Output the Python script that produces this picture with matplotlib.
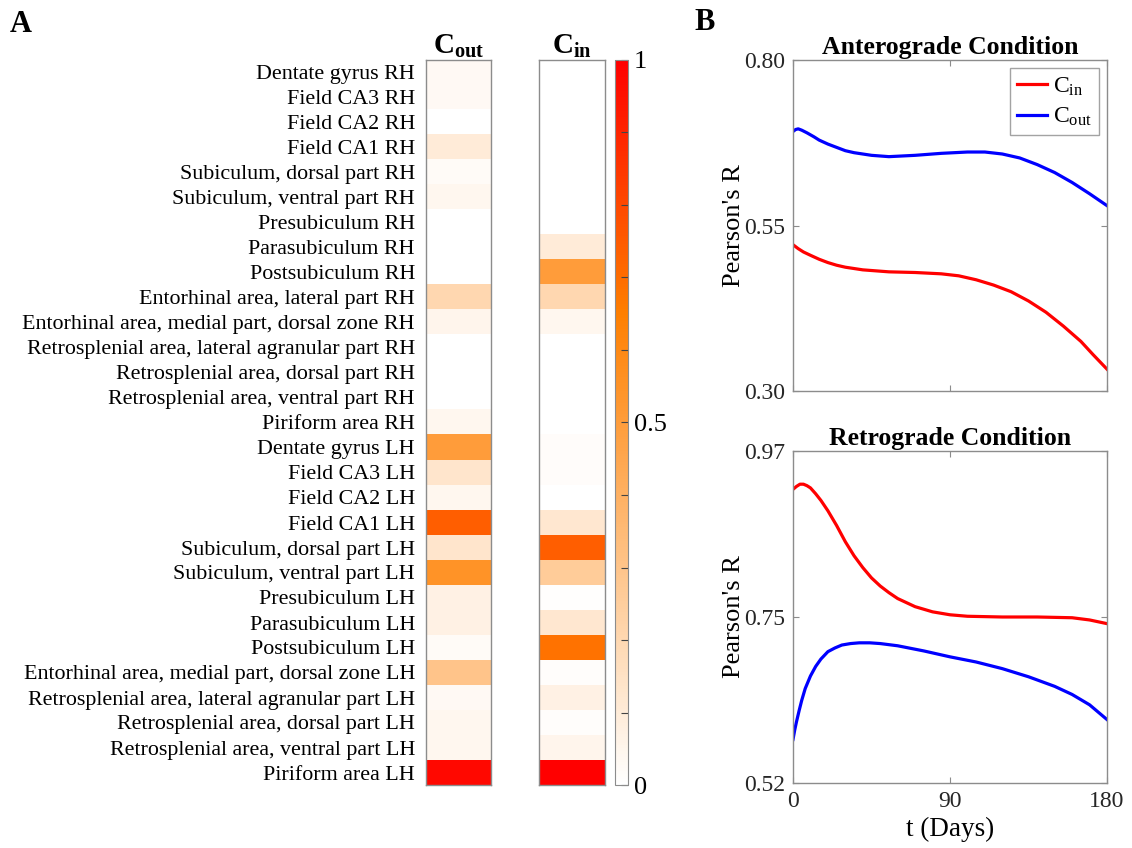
import numpy as np
import matplotlib
matplotlib.use("Agg")
import matplotlib.pyplot as plt
from matplotlib.colors import LinearSegmentedColormap

plt.rcParams['font.family'] = ['Liberation Serif', 'DejaVu Serif']
plt.rcParams['mathtext.fontset'] = 'custom'
plt.rcParams['mathtext.rm'] = 'Liberation Serif'
plt.rcParams['mathtext.it'] = 'Liberation Serif:italic'
plt.rcParams['mathtext.bf'] = 'Liberation Serif:bold'

# ---------------- data ----------------
regions = [
    "Dentate gyrus RH", "Field CA3 RH", "Field CA2 RH", "Field CA1 RH",
    "Subiculum, dorsal part RH", "Subiculum, ventral part RH", "Presubiculum RH",
    "Parasubiculum RH", "Postsubiculum RH", "Entorhinal area, lateral part RH",
    "Entorhinal area, medial part, dorsal zone RH",
    "Retrosplenial area, lateral agranular part RH",
    "Retrosplenial area, dorsal part RH", "Retrosplenial area, ventral part RH",
    "Piriform area RH", "Dentate gyrus LH", "Field CA3 LH", "Field CA2 LH",
    "Field CA1 LH", "Subiculum, dorsal part LH", "Subiculum, ventral part LH",
    "Presubiculum LH", "Parasubiculum LH", "Postsubiculum LH",
    "Entorhinal area, medial part, dorsal zone LH",
    "Retrosplenial area, lateral agranular part LH",
    "Retrosplenial area, dorsal part LH", "Retrosplenial area, ventral part LH",
    "Piriform area LH",
]
c_out = [0.03, 0.03, 0.0, 0.10, 0.02, 0.04, 0.0, 0.0, 0.0, 0.20, 0.05, 0.0, 0.0, 0.0,
         0.04, 0.50, 0.13, 0.04, 0.74, 0.13, 0.55, 0.07, 0.07, 0.02, 0.30, 0.03,
         0.04, 0.04, 0.975]
c_in = [0.0, 0.0, 0.0, 0.0, 0.0, 0.0, 0.0, 0.10, 0.50, 0.20, 0.04, 0.0, 0.0, 0.0,
        0.0, 0.015, 0.015, 0.0, 0.12, 0.74, 0.26, 0.005, 0.12, 0.685, 0.01, 0.07,
        0.01, 0.05, 1.0]

ant_out_t = [0, 1.5, 3, 5, 8, 12, 15, 20, 25, 30, 35, 40, 45, 55, 70, 85, 100, 110, 120,
             130, 140, 150, 160, 170, 180]
ant_out_r = [0.692, 0.695, 0.696, 0.694, 0.690, 0.684, 0.679, 0.673, 0.668, 0.663, 0.660,
             0.658, 0.656, 0.654, 0.656, 0.659, 0.661, 0.661, 0.658, 0.652, 0.642, 0.630,
             0.615, 0.598, 0.580]
ant_in_t = [0, 3, 6, 10, 15, 20, 25, 30, 40, 55, 70, 85, 95, 105, 115, 125, 135, 145, 155,
            165, 172, 180]
ant_in_r = [0.521, 0.515, 0.510, 0.505, 0.499, 0.494, 0.490, 0.487, 0.483, 0.480, 0.479,
            0.477, 0.474, 0.468, 0.460, 0.450, 0.436, 0.419, 0.398, 0.375, 0.355, 0.333]

ret_in_t = [0, 2, 4, 6, 8, 10, 13, 16, 20, 25, 30, 35, 40, 45, 50, 55, 60, 70, 80, 90, 100,
            120, 140, 160, 170, 180]
ret_in_r = [0.918, 0.922, 0.925, 0.925, 0.923, 0.920, 0.912, 0.903, 0.889, 0.869, 0.847,
            0.828, 0.812, 0.798, 0.787, 0.778, 0.770, 0.759, 0.752, 0.748, 0.746, 0.745,
            0.745, 0.744, 0.741, 0.736]
ret_out_t = [0, 1, 2, 3.5, 5, 7, 10, 13, 16, 20, 24, 28, 33, 38, 44, 50, 60, 75, 90, 105,
             120, 135, 150, 160, 170, 180]
ret_out_r = [0.579, 0.592, 0.603, 0.618, 0.632, 0.648, 0.665, 0.678, 0.688, 0.698, 0.703,
             0.707, 0.709, 0.710, 0.710, 0.709, 0.706, 0.699, 0.691, 0.684, 0.675, 0.664,
             0.651, 0.640, 0.626, 0.606]

# ---------------- figure ----------------
W, H = 1132, 848
fig = plt.figure(figsize=(W / 100, H / 100), dpi=100)

def ax_px(x0, y0, x1, y1):
    return fig.add_axes([x0 / W, 1 - y1 / H, (x1 - x0) / W, (y1 - y0) / H])

cmap = LinearSegmentedColormap.from_list(
    "wor", [(0.0, (1, 1, 1)), (0.65, (1.0, 0.5, 0.0)), (1.0, (1.0, 0.0, 0.0))])

edge = "#8c8c8c"
n = len(regions)
ax_out = ax_px(426, 60, 491, 785)
ax_in = ax_px(539, 60, 605, 785)
im = None
for ax, vals, title in [(ax_out, c_out, r"$\mathbf{C_{out}}$"), (ax_in, c_in, r"$\mathbf{C_{in}}$")]:
    im = ax.imshow(np.array(vals).reshape(-1, 1), cmap=cmap, vmin=0, vmax=1,
                   aspect='auto', interpolation='nearest')
    ax.set_xticks([])
    ax.set_yticks([])
    for s in ax.spines.values():
        s.set_color(edge)
        s.set_linewidth(1.0)
    ax.set_title(title, fontsize=21, pad=3)

ax_out.set_yticks(range(n))
ax_out.set_yticklabels(regions, fontsize=15.8)
ax_out.tick_params(axis='y', length=0, pad=8)

cax = ax_px(615, 60, 628, 785)
cb = fig.colorbar(im, cax=cax)
cb.set_ticks(np.round(np.arange(0, 1.01, 0.1), 1))
cb.set_ticklabels(["0", "", "", "", "", "0.5", "", "", "", "", "1"])
cb.ax.tick_params(direction='in', length=5, width=0.8, color='#444444', labelsize=19, pad=4)
cb.outline.set_edgecolor(edge)

def style_line_ax(ax):
    for s in ax.spines.values():
        s.set_color(edge)
        s.set_linewidth(1.0)
    ax.tick_params(direction='in', top=True, right=True, color=edge, length=4,
                   labelsize=17, labelcolor='#262626', pad=6)
    ax.set_xlim(0, 180)
    ax.set_xticks([0, 90, 180])

ax1 = ax_px(793, 60, 1107, 391)
ax1.plot(ant_in_t, ant_in_r, color='#ff0000', lw=2.3, label=r"C$_{\mathrm{in}}$")
ax1.plot(ant_out_t, ant_out_r, color='#0000ff', lw=2.3, label=r"C$_{\mathrm{out}}$")
style_line_ax(ax1)
ax1.set_ylim(0.30, 0.80)
ax1.set_yticks([0.30, 0.55, 0.80])
ax1.set_yticklabels(["0.30", "0.55", "0.80"])
ax1.set_xticklabels([])
ax1.set_ylabel("Pearson's R", fontsize=19)
ax1.yaxis.set_label_coords(-0.152, 0.5)
ax1.set_title("Anterograde Condition", fontsize=18.5, fontweight='bold', pad=4)
leg = ax1.legend(loc='upper right', fontsize=17, frameon=True, fancybox=False,
                 handlelength=1.25, borderpad=0.3, labelspacing=0.35, handletextpad=0.25,
                 borderaxespad=0.35)
leg.get_frame().set_edgecolor(edge)
leg.get_frame().set_linewidth(1.0)

ax2 = ax_px(793, 451, 1107, 783)
ax2.plot(ret_in_t, ret_in_r, color='#ff0000', lw=2.3)
ax2.plot(ret_out_t, ret_out_r, color='#0000ff', lw=2.3)
style_line_ax(ax2)
ax2.set_ylim(0.52, 0.97)
ax2.set_yticks([0.52, 0.745, 0.97])
ax2.set_yticklabels(["0.52", "0.75", "0.97"])
ax2.set_xticklabels(["0", "90", "180"])
ax2.set_ylabel("Pearson's R", fontsize=19)
ax2.yaxis.set_label_coords(-0.152, 0.5)
ax2.set_xlabel("t (Days)", fontsize=19.5, labelpad=3)
ax2.set_title("Retrograde Condition", fontsize=18.5, fontweight='bold', pad=4)

fig.text(10 / W, 1 - 24 / H, "A", fontsize=22, fontweight='bold', va='center', ha='left')
fig.text(694 / W, 1 - 22 / H, "B", fontsize=22, fontweight='bold', va='center', ha='left')

fig.savefig("out.png", dpi=100, facecolor='white')
